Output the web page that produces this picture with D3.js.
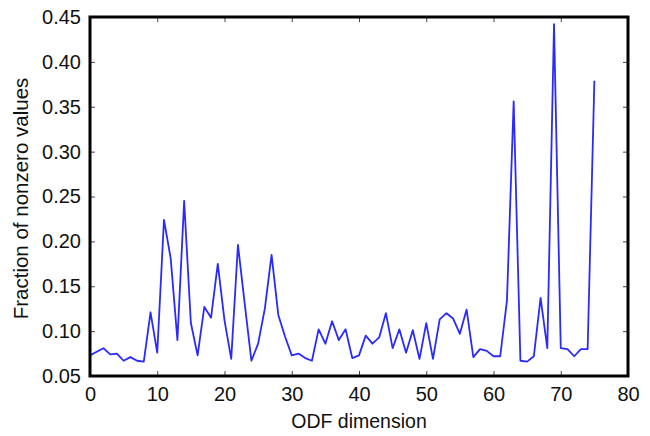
<!DOCTYPE html>
<html>
<head>
<meta charset="utf-8">
<script src="https://cdn.jsdelivr.net/npm/d3@7"></script>
<style>
  body { margin: 0; background: #fff; }
  text { font-family: "Liberation Sans", Arial, sans-serif; fill: #111; }
</style>
</head>
<body>
<div id="chart"></div>
<script>
// ODF dimension index 0..75 and fraction of nonzero values
const dims = d3.range(0, 76);
const fractions = [
  0.073, 0.077, 0.081, 0.074, 0.075, 0.067, 0.071, 0.067, 0.066, 0.121,
  0.076, 0.224, 0.181, 0.090, 0.245, 0.109, 0.073, 0.127, 0.115, 0.175,
  0.112, 0.069, 0.196, 0.131, 0.067, 0.086, 0.125, 0.185, 0.118, 0.094,
  0.073, 0.075, 0.070, 0.067, 0.102, 0.086, 0.111, 0.090, 0.102, 0.070,
  0.073, 0.095, 0.086, 0.093, 0.120, 0.081, 0.102, 0.076, 0.101, 0.069,
  0.109, 0.069, 0.113, 0.120, 0.114, 0.097, 0.124, 0.071, 0.080, 0.078,
  0.072, 0.072, 0.134, 0.356, 0.067, 0.066, 0.072, 0.137, 0.081, 0.442,
  0.081, 0.080, 0.072, 0.080, 0.080, 0.379
];
const xTicks = [0, 10, 20, 30, 40, 50, 60, 70, 80];
const yTicks = [0.05, 0.10, 0.15, 0.20, 0.25, 0.30, 0.35, 0.40, 0.45];

const width = 650, height = 436;
const margin = { top: 17, right: 22, bottom: 60, left: 90 };

const svg = d3.select("#chart").append("svg")
  .attr("width", width)
  .attr("height", height);

const x = d3.scaleLinear().domain([0, 80]).range([margin.left, width - margin.right]);
const y = d3.scaleLinear().domain([0.05, 0.45]).range([height - margin.bottom, margin.top]);

const tickLen = 5;

// bottom axis (ticks inside)
svg.append("g")
  .attr("transform", `translate(0,${y(0.05)})`)
  .call(d3.axisBottom(x).tickValues(xTicks).tickSize(-tickLen).tickPadding(10).tickFormat(d3.format("d")))
  .call(g => g.select(".domain").remove())
  .call(g => g.selectAll("text").attr("font-size", 20).attr("dy", "0.75em"));

// top axis ticks
svg.append("g")
  .attr("transform", `translate(0,${y(0.45)})`)
  .call(d3.axisTop(x).tickValues(xTicks).tickSize(-tickLen).tickFormat(""))
  .call(g => g.select(".domain").remove());

// left axis
svg.append("g")
  .attr("transform", `translate(${x(0)},0)`)
  .call(d3.axisLeft(y).tickValues(yTicks).tickSize(-tickLen).tickPadding(9).tickFormat(d3.format(".2f")))
  .call(g => g.select(".domain").remove())
  .call(g => g.selectAll("text").attr("font-size", 20));

// right axis ticks
svg.append("g")
  .attr("transform", `translate(${x(80)},0)`)
  .call(d3.axisRight(y).tickValues(yTicks).tickSize(-tickLen).tickFormat(""))
  .call(g => g.select(".domain").remove());

svg.selectAll(".tick line").attr("stroke", "#444").attr("stroke-width", 1);

// data line
const line = d3.line()
  .x((d, i) => x(dims[i]))
  .y(d => y(d));

svg.append("path")
  .datum(fractions)
  .attr("fill", "none")
  .attr("stroke", "#2a2aff")
  .attr("stroke-width", 1.8)
  .attr("stroke-linejoin", "round")
  .attr("d", line);

// frame
svg.append("rect")
  .attr("x", x(0))
  .attr("y", y(0.45))
  .attr("width", x(80) - x(0))
  .attr("height", y(0.05) - y(0.45))
  .attr("fill", "none")
  .attr("stroke", "#000")
  .attr("stroke-width", 3);

// axis titles
svg.append("text")
  .attr("x", (x(0) + x(80)) / 2)
  .attr("y", 428)
  .attr("text-anchor", "middle")
  .attr("font-size", 19.5)
  .text("ODF dimension");

svg.append("text")
  .attr("transform", `translate(28,${(y(0.05) + y(0.45)) / 2 + 2}) rotate(-90)`)
  .attr("text-anchor", "middle")
  .attr("font-size", 20.5)
  .text("Fraction of nonzero values");
</script>
</body>
</html>
